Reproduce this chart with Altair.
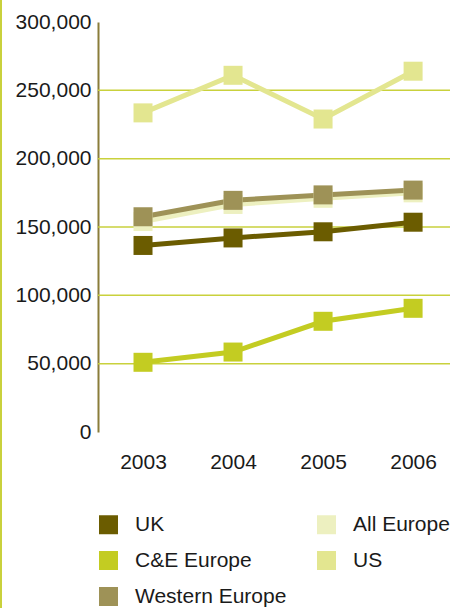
import altair as alt
import pandas as pd

years = [2003, 2004, 2005, 2006]
series_order = ["All Europe", "US", "C&E Europe", "UK", "Western Europe"]
uk = [136500, 142000, 146500, 153500]
ce_europe = [51000, 58500, 81000, 90500]
western_europe = [157500, 169500, 173500, 177000]
all_europe = [154000, 166500, 171000, 175000]
us = [233500, 261000, 229000, 264000]
grid_values = [50000, 100000, 150000, 200000, 250000]
y_ticks = [0, 50000, 100000, 150000, 200000, 250000, 300000]

legend_domain = ["UK", "C&E Europe", "Western Europe", "All Europe", "US"]
legend_colors = ["#6b5c00", "#c3cc22", "#9e9257", "#edf0c0", "#e3e690"]

values = {"All Europe": all_europe, "US": us, "C&E Europe": ce_europe,
          "UK": uk, "Western Europe": western_europe}
rows = []
for i, s in enumerate(series_order):
    for y, v in zip(years, values[s]):
        rows.append({"series": s, "year": y, "value": v, "order": i})
df = pd.DataFrame(rows)
grid_df = pd.DataFrame({"g": grid_values})

FONT = "Liberation Sans"
FS = 21

xscale = alt.Scale(domain=[2002.5, 2006.41], nice=False, zero=False)
yscale = alt.Scale(domain=[0, 300000], nice=False)
color_scale = alt.Scale(domain=legend_domain, range=legend_colors)

x_axis = alt.Axis(values=years, format="d", title=None, grid=False,
                  domain=False, ticks=False, labelPadding=19,
                  labelFontSize=FS, labelFont=FONT, labelColor="#1a1a1a")
y_axis = alt.Axis(values=y_ticks, format=",d", title=None, grid=False, ticks=False,
                  domainColor="#8a7d3a", domainWidth=2, labelPadding=7,
                  labelFontSize=FS, labelFont=FONT, labelColor="#1a1a1a")
legend = alt.Legend(title=None, orient="none", legendX=0, legendY=492,
                    columns=2, symbolType="square", symbolSize=361,
                    symbolStrokeWidth=0, symbolOpacity=1,
                    labelFontSize=FS, labelFont=FONT,
                    labelColor="#1a1a1a", labelOffset=16,
                    rowPadding=14, columnPadding=29)

grid = alt.Chart(grid_df).mark_rule(color="#c9d13c", strokeWidth=1.5).encode(
    y=alt.Y("g:Q", scale=yscale, axis=y_axis)
)

base = alt.Chart(df)

lines = base.mark_line(strokeWidth=5).encode(
    x=alt.X("year:Q", scale=xscale, axis=x_axis),
    y=alt.Y("value:Q", scale=yscale, axis=y_axis),
    color=alt.Color("series:N", scale=color_scale, legend=legend),
    detail="series:N",
    order="order:Q",
)

points = base.mark_square(size=361, opacity=1, filled=True).encode(
    x=alt.X("year:Q", scale=xscale, axis=x_axis),
    y=alt.Y("value:Q", scale=yscale, axis=y_axis),
    color=alt.Color("series:N", scale=color_scale, legend=legend),
    order="order:Q",
)

border = alt.Chart(pd.DataFrame({"a": [0]})).mark_rule(
    color="#c9d13c", strokeWidth=2, clip=False
).encode(x=alt.value(-97), y=alt.value(-22), y2=alt.value(586))

chart = alt.layer(grid, lines, points, border).properties(
    width=352, height=410,
    autosize=alt.AutoSizeParams(type="none"),
    padding={"left": 98, "top": 22, "right": 3, "bottom": 176},
).configure(background="white").configure_view(stroke=None)

chart.save("out.html", embed_options={"renderer": "svg", "actions": False})
